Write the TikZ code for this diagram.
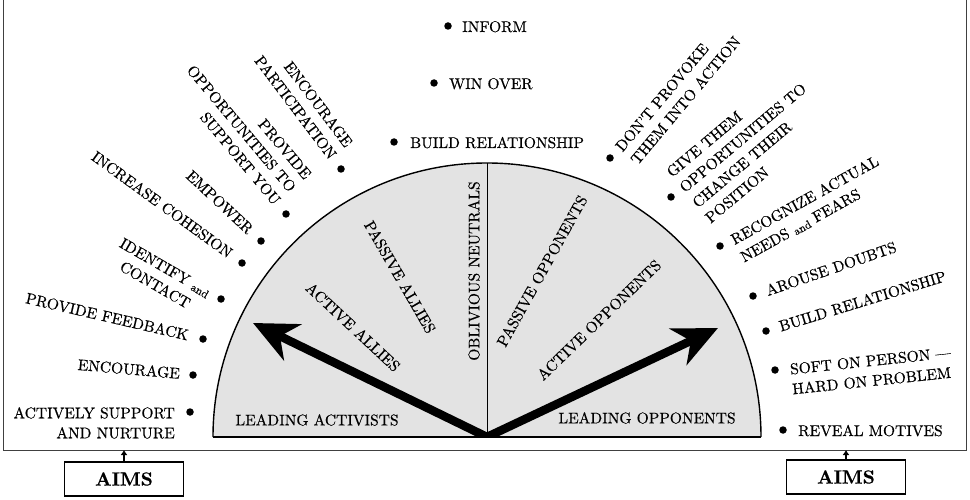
\documentclass[tikz,border=0pt]{standalone}
\usepackage{fontspec}
\setmainfont{lmroman10-regular.otf}[BoldFont=lmroman10-bold.otf,FakeBold=0.4]
\usetikzlibrary{arrows.meta}
\tikzset{
  lab/.style={font=\fontsize{15.5}{20}\selectfont, inner sep=0pt},
  dotm/.style={circle, fill=black, inner sep=0pt, minimum size=7.5pt},
  bigarrow/.style={line width=8.5pt, -{Stealth[length=44pt,width=40pt,inset=14pt]}},
  aimsbox/.style={draw, line width=1.6pt, minimum width=119pt, minimum height=34pt, inner sep=0pt,
    font=\fontsize{19}{22}\selectfont\bfseries},
  smallarrow/.style={line width=1.5pt, -{Latex[length=5pt,width=7pt]}},
  frameline/.style={line width=1pt, draw=black!75},
}
\newcommand\mylabel[9]{%
  \node[dotm] (#1d) at (#2,#3) {};
  \begin{scope}[shift={(#2,#3)},rotate=#4]
    \node[lab,transform shape,anchor=#5,align=#8] (#1) at (#6,#7) {#9};
  \end{scope}}
\newcommand\sand{\raisebox{-1.5pt}{\fontsize{11.5}{12}\selectfont and}}
\begin{document}
\begin{tikzpicture}[x=1pt,y=-1pt]
\useasboundingbox (0,0) rectangle (970,500);
% frame
\draw[frameline] (3,0) -- (3,450) -- (966,450) -- (966,0);
\coordinate (fb) at (0,450);
% semicircle
\coordinate (O) at (487,437);
\fill[black!11] (213,437) arc[start angle=180,end angle=360,radius=274] -- cycle;
\begin{scope}
  \clip (213,437) arc[start angle=180,end angle=360,radius=274] -- cycle;
  \coordinate (tipL) at (253,323);
  \coordinate (tipR) at (718,328);
  \draw[bigarrow] (O) -- (tipL);
  \draw[bigarrow] (O) -- (tipR);
\end{scope}
\draw[line width=1.4pt] (213,437) arc[start angle=180,end angle=360,radius=274];
\draw[line width=1.2pt] (213,437) -- (761,437);
\coordinate (top) at (487,163);
\draw[line width=0.9pt] (O) -- (top);
% interior labels
\node[lab,rotate=90] (neutral) at (474,271) {OBLIVIOUS NEUTRALS};
\node[lab,rotate=-60] (pallies) at (400,277) {PASSIVE ALLIES};
\node[lab,rotate=-43] (aallies) at (353,327) {ACTIVE ALLIES};
\node[lab,rotate=61] (popp) at (542,271) {PASSIVE OPPONENTS};
\node[lab,rotate=44] (aopp) at (599,320) {ACTIVE OPPONENTS};
\node[lab] (lact) at (317,420) {LEADING ACTIVISTS};
\node[lab] (lopp) at (647,418) {LEADING OPPONENTS};
% top labels
\mylabel{inform}{448}{26}{0}{base west}{14}{6}{left}{INFORM}
\mylabel{win}{434}{83}{0}{base west}{15}{6}{left}{WIN OVER}
\mylabel{buildT}{394}{142}{0}{base west}{16}{6}{left}{BUILD RELATIONSHIP}
% left labels
\mylabel{encpart}{341}{169}{-53}{south east}{-14}{5}{right}{ENCOURAGE\\PARTICIPATION}
\mylabel{prov}{286}{214}{-50}{south east}{-14}{5}{right}{PROVIDE\\OPPORTUNITIES TO\\SUPPORT YOU}
\mylabel{emp}{261}{241}{-43}{base east}{-14}{5}{right}{EMPOWER}
\mylabel{inc}{242}{263}{-36}{base east}{-14}{5}{right}{INCREASE COHESION}
\mylabel{ident}{221}{299}{-30}{north east}{-13}{-5}{center}{IDENTIFY \sand\\CONTACT}
\mylabel{feed}{203}{339}{-13}{base east}{-15}{5}{right}{PROVIDE FEEDBACK}
\mylabel{enc}{193}{375}{-5}{base east}{-13}{5}{right}{ENCOURAGE}
\mylabel{act}{190}{412}{0}{north east}{-15}{-5}{right}{ACTIVELY SUPPORT\\AND NURTURE}
% right labels
\mylabel{dont}{610}{158}{50}{north west}{12}{-5}{left}{DON'T PROVOKE\\THEM INTO ACTION}
\mylabel{give}{671}{197}{40}{north west}{13}{-25}{left}{GIVE THEM\\OPPORTUNITIES TO\\CHANGE THEIR\\POSITION}
\mylabel{recog}{720}{246}{29}{north west}{13}{-5}{left}{RECOGNIZE ACTUAL\\NEEDS \sand\ FEARS}
\mylabel{arouse}{753}{296}{19}{base west}{14}{5}{left}{AROUSE DOUBTS}
\mylabel{buildR}{766}{331}{17}{base west}{14}{5}{left}{BUILD RELATIONSHIP}
\mylabel{soft}{775}{370}{6}{north west}{15}{-5}{left}{SOFT ON PERSON ---\\HARD ON PROBLEM}
\mylabel{reveal}{783}{430}{0}{base west}{15}{6}{left}{REVEAL MOTIVES}
% AIMS boxes
\node[aimsbox] (aimsL) at (124,479) {AIMS};
\node[aimsbox] (aimsR) at (846,477) {AIMS};
\draw[smallarrow] (aimsL.north) -- (aimsL.north |- fb);
\draw[smallarrow] (aimsR.north) -- (aimsR.north |- fb);
\end{tikzpicture}
\end{document}
